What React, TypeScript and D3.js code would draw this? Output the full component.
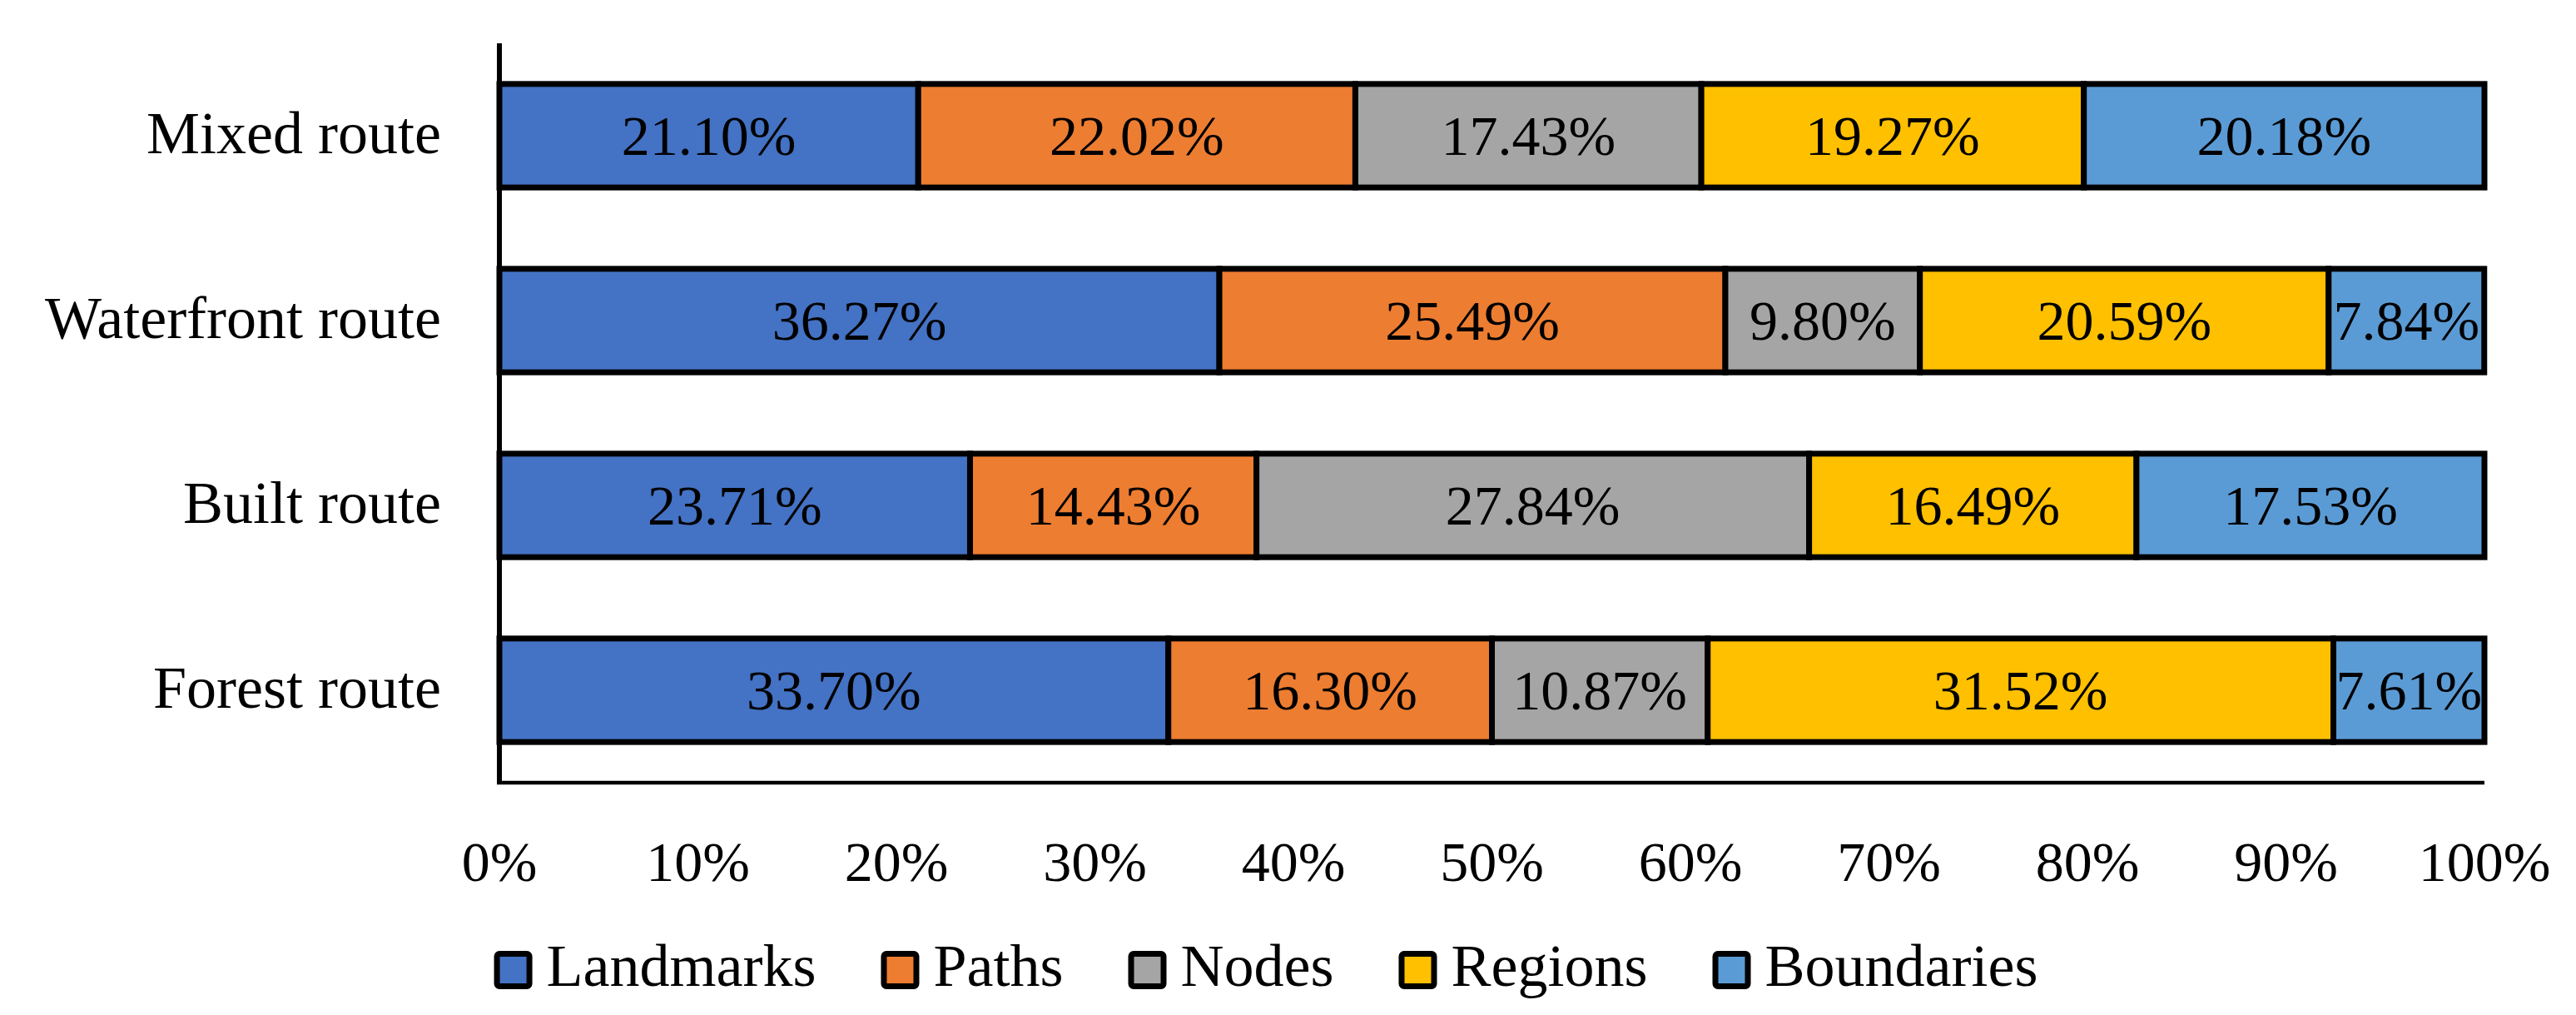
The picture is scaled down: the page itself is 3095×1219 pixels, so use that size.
import React, { useEffect, useRef } from "react";
import * as d3 from "d3";

// route categories, top to bottom
const routes = ["Mixed route", "Waterfront route", "Built route", "Forest route"];
const elements = ["Landmarks", "Paths", "Nodes", "Regions", "Boundaries"];
const colors = ["#4472C4", "#ED7D31", "#A5A5A5", "#FFC000", "#5B9BD5"];

// percentages per element, in route order
const landmarks = [21.1, 36.27, 23.71, 33.7];
const paths = [22.02, 25.49, 14.43, 16.3];
const nodes = [17.43, 9.8, 27.84, 10.87];
const regions = [19.27, 20.59, 16.49, 31.52];
const boundaries = [20.18, 7.84, 17.53, 7.61];

const xTicks = [0, 10, 20, 30, 40, 50, 60, 70, 80, 90, 100];

const W = 3095;
const H = 1219;
const FONT = "'Liberation Serif', 'Times New Roman', serif";

const App: React.FC = () => {
  const svgRef = useRef<SVGSVGElement>(null);

  useEffect(() => {
    const svg = d3.select(svgRef.current);
    svg.selectAll("*").remove();

    const margin = { top: 52, right: 110, bottom: 279, left: 600 };
    const series = [landmarks, paths, nodes, regions, boundaries];
    const rows = routes.map((r, i) => {
      const row: any = { route: r };
      elements.forEach((e, j) => (row[e] = series[j][i]));
      return row;
    });

    const stacked = d3.stack<any>().keys(elements)(rows);

    const x = d3
      .scaleLinear()
      .domain([0, 100])
      .range([margin.left, W - margin.right]);

    const y = d3
      .scaleBand()
      .domain(routes)
      .range([margin.top, H - margin.bottom])
      .paddingInner(0.44)
      .paddingOuter(0.22);

    const color = d3.scaleOrdinal<string>().domain(elements).range(colors);

    // bars
    const layers = svg
      .append("g")
      .selectAll("g")
      .data(stacked)
      .enter()
      .append("g")
      .attr("fill", (d) => color(d.key));

    layers
      .selectAll("rect")
      .data((d) => d)
      .enter()
      .append("rect")
      .attr("x", (d) => x(d[0]))
      .attr("y", (d: any) => y(d.data.route)!)
      .attr("width", (d) => x(d[1]) - x(d[0]))
      .attr("height", y.bandwidth())
      .attr("stroke", "#000")
      .attr("stroke-width", 7);

    // value labels
    layers
      .selectAll("text")
      .data((d) => d.map((v) => ({ v, val: (v.data as any)[d.key] })))
      .enter()
      .append("text")
      .attr("x", (d) => (x(d.v[0]) + x(d.v[1])) / 2)
      .attr("y", (d: any) => y(d.v.data.route)! + y.bandwidth() / 2)
      .attr("dy", "0.34em")
      .attr("text-anchor", "middle")
      .attr("fill", "#000")
      .style("font-family", FONT)
      .style("font-size", "68px")
      .text((d) => `${d.val.toFixed(2)}%`);

    // axes lines
    svg
      .append("line")
      .attr("x1", x(0))
      .attr("x2", x(0))
      .attr("y1", margin.top)
      .attr("y2", H - margin.bottom)
      .attr("stroke", "#000")
      .attr("stroke-width", 6);

    svg
      .append("line")
      .attr("x1", x(0) - 3)
      .attr("x2", x(100))
      .attr("y1", H - margin.bottom)
      .attr("y2", H - margin.bottom)
      .attr("stroke", "#000")
      .attr("stroke-width", 4.5);

    // category labels
    svg
      .append("g")
      .selectAll("text")
      .data(routes)
      .enter()
      .append("text")
      .attr("x", x(0) - 70)
      .attr("y", (d) => y(d)! + y.bandwidth() / 2)
      .attr("dy", "0.29em")
      .attr("text-anchor", "end")
      .style("font-family", FONT)
      .style("font-size", "72px")
      .text((d) => d);

    // x tick labels
    svg
      .append("g")
      .selectAll("text")
      .data(xTicks)
      .enter()
      .append("text")
      .attr("x", (d) => x(d))
      .attr("y", 1058)
      .attr("text-anchor", "middle")
      .style("font-family", FONT)
      .style("font-size", "68px")
      .text((d) => `${d}%`);

    // legend
    const legend = svg.append("g");
    const sw = 39;
    let cx = 0;
    elements.forEach((e) => {
      const item = legend.append("g").attr("transform", `translate(${cx},0)`);
      item
        .append("rect")
        .attr("x", 3.5)
        .attr("y", 1145.5)
        .attr("width", sw)
        .attr("height", sw)
        .attr("rx", 3)
        .attr("fill", color(e))
        .attr("stroke", "#000")
        .attr("stroke-width", 7);
      const t = item
        .append("text")
        .attr("x", 63)
        .attr("y", 1184)
        .style("font-family", FONT)
        .style("font-size", "72px")
        .text(e);
      const tw = (t.node() as SVGTextElement).getComputedTextLength();
      cx += 63 + tw + 78;
    });
    const total = cx - 78;
    legend.attr("transform", `translate(${1521 - total / 2},0)`);
  }, []);

  return (
    <div style={{ position: "absolute", left: 0, top: 0, background: "#fff" }}>
      <svg ref={svgRef} width={W} height={H} style={{ display: "block" }} />
    </div>
  );
};

export default App;
